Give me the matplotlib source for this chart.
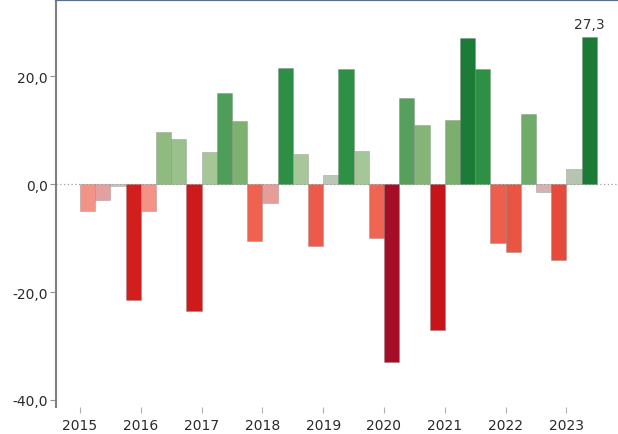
import matplotlib
matplotlib.use("Agg")
import matplotlib.pyplot as plt
import numpy as np
from matplotlib.colors import LinearSegmentedColormap, Normalize
from matplotlib.ticker import FuncFormatter

# quarterly change, 2015 Q1 .. 2023 Q2
years = [2015, 2016, 2017, 2018, 2019, 2020, 2021, 2022, 2023]
values = [-5.0, -3.0, -0.3, -21.5,
          -5.0, 9.7, 8.3, -23.5,
          6.0, 16.8, 11.6, -10.5,
          -3.5, 21.5, 5.6, -11.5,
          1.7, 21.3, 6.1, -10.0,
          -33.0, 16.0, 11.0, -27.0,
          11.8, 27.1, 21.3, -11.0,
          -12.5, 13.0, -1.5, -14.0,
          2.8, 27.3]

# diverging colour scale, anchored at values
vmin, vmax = -33.5, 27.5
anchors = [(-33.5, '#a30d28'), (-27, '#c51519'), (-21, '#d41f1f'), (-14, '#e64b3a'),
           (-10, '#ef6552'), (-5, '#f39286'), (-2.5, '#dfa4a4'), (-0.4, '#c9c0c0'),
           (0.4, '#c2c9be'), (2.5, '#b6c6b0'), (6, '#a6c698'), (9, '#97bf87'),
           (12, '#7aaf6e'), (16, '#55a05c'), (21, '#2f9146'), (27.5, '#1a7a36')]
cmap = LinearSegmentedColormap.from_list(
    'rg', [((v - vmin) / (vmax - vmin), c) for v, c in anchors])
norm = Normalize(vmin, vmax)

fig = plt.figure(figsize=(6.18, 4.35), dpi=100)
ax = fig.add_axes([56 / 618, 27 / 435, 562 / 618, 407 / 435])

x = np.arange(len(values))
colors = [cmap(norm(v)) for v in values]
ax.bar(x, values, width=1.0, align='edge', color=colors,
       edgecolor=(0.45, 0.45, 0.45, 0.35), linewidth=0.6, zorder=2)

ax.axhline(0, color='#a0a0a0', linestyle=(0, (1, 2)), linewidth=0.9, zorder=1)

# label on the last bar
ax.annotate(f"{values[-1]:.1f}".replace('.', ','), (x[-1] + 0.5, values[-1]),
            xytext=(0, 4), textcoords='offset points', ha='center', va='bottom',
            fontsize=10, color='#333333')

ax.set_xlim(-1.58, 35.4)
ax.set_ylim(-41.3, 34.1)

ax.set_xticks([4 * i for i in range(len(years))])
ax.set_xticklabels([str(y) for y in years])
ax.set_yticks([-40, -20, 0, 20])
ax.yaxis.set_major_formatter(FuncFormatter(lambda v, p: f"{v:.1f}".replace('.', ',')))

ax.tick_params(axis='x', length=4, width=0.8, color='#b0b0b0', pad=4,
               labelsize=10, labelcolor='#2a2a2a')
ax.tick_params(axis='y', length=4, width=0.8, color='#909090', pad=2,
               labelsize=10, labelcolor='#2a2a2a')

for s in ['right', 'bottom']:
    ax.spines[s].set_visible(False)
ax.spines['left'].set_color('#808080')
ax.spines['left'].set_linewidth(1.5)
ax.spines['top'].set_color('#5b7090')
ax.spines['top'].set_linewidth(1.6)

fig.savefig('out.png', dpi=100)
